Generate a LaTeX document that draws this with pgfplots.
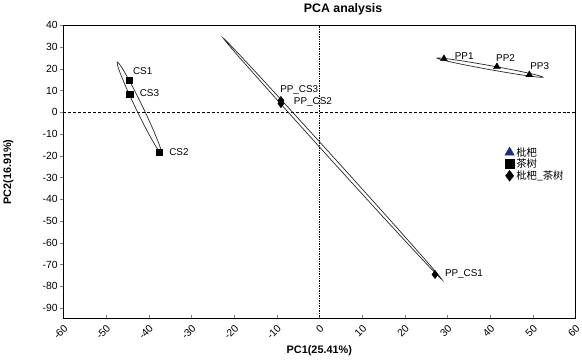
\documentclass[border=0pt]{standalone}
\usepackage{fontspec}
\setmainfont{Liberation Sans}
\newfontfamily\cjk{Noto Sans CJK SC}
\usepackage{pgfplots}
\pgfplotsset{compat=1.18}
\definecolor{legblue}{RGB}{28,48,118}
\begin{document}
\begin{tikzpicture}
\begin{axis}[
  scale only axis,
  width=518pt, height=297pt,
  xmin=-60, xmax=60, ymin=-95, ymax=40,
  xtick={-60,-50,...,60}, ytick={-90,-80,...,40},
  /pgf/number format/assume math mode=true,
  tick label style={font=\fontsize{10.5}{12}\selectfont},
  x tick label style={rotate=45, anchor=north east, inner sep=1pt},
  y tick label style={inner sep=2pt},
  tick align=outside,
  x tick style={yshift=3.5pt},
  xtick pos=bottom, ytick pos=left,
  major tick length=3.5pt,
  axis line style={line width=0.9pt},
  title={\bfseries PCA analysis},
  title style={font=\fontsize{12.5}{14}\selectfont, yshift=1pt, xshift=24pt},
  xlabel={\bfseries PC1(25.41\%)},
  ylabel={\bfseries PC2(16.91\%)},
  label style={font=\fontsize{11}{13}\selectfont},
  xlabel style={yshift=-1pt},
  ylabel style={yshift=24pt},
  legend style={draw=none, fill=none, at={(0.86,0.595)}, anchor=north west,
    font=\cjk\fontsize{10.5}{12}\selectfont, row sep=-2.5pt, inner sep=1pt},
  legend cell align=left,
  clip=false,
]
% reference lines
\addplot[black, densely dashed, line width=0.6pt, forget plot] coordinates {(-60,0) (60,0)};
\addplot[black, densely dotted, line width=0.7pt, forget plot] coordinates {(0,-95) (0,40)};
% ellipses
\addplot[black!85, line width=0.7pt, smooth cycle, forget plot] coordinates {
(-37.02,-18.90) (-37.35,-15.73) (-38.98,-7.80) (-41.46,2.79) (-44.14,13.18) (-46.30,20.60)
(-47.35,23.05) (-47.02,19.88) (-45.39,11.94) (-42.91,1.36) (-40.23,-9.03) (-38.07,-16.45)};
\addplot[black!85, line width=0.7pt, smooth cycle, forget plot] coordinates {
(28.74,-76.96) (25.45,-69.24) (16.18,-48.71) (3.41,-20.87) (-9.45,6.82) (-18.94,26.94)
(-22.53,34.10) (-19.25,26.38) (-9.97,5.85) (2.80,-21.99) (15.66,-49.68) (25.15,-69.80)};
\addplot[black!85, line width=0.7pt, smooth cycle, forget plot] coordinates {
(52.41,16.13) (50.79,17.17) (46.28,19.11) (40.08,21.41) (33.86,23.48) (29.29,24.75)
(27.59,24.88) (29.21,23.85) (33.72,21.91) (39.92,19.60) (46.14,17.53) (50.71,16.26)};
% points
\addplot[only marks, mark=triangle*, mark size=4pt, black, forget plot] coordinates {
(29.2,24.6) (41.6,20.9) (49.2,17.2)};
\addplot[only marks, mark=square*, mark size=3.2pt, black, forget plot] coordinates {
(-44.6,14.7) (-44.4,8.3) (-37.5,-18.4)};
\addplot[only marks, mark=diamond*, mark size=4.2pt, black, forget plot] coordinates {
(-9.0,5.4) (-9.0,4.0) (27.1,-74.6)};
% legend
\addlegendimage{only marks, mark=triangle*, mark size=5.5pt, legblue}
\addlegendentry{枇杷}
\addlegendimage{only marks, mark=square*, mark size=4.5pt, black}
\addlegendentry{茶树}
\addlegendimage{only marks, mark=diamond*, mark size=5.5pt, black}
\addlegendentry{枇杷\_茶树}
% labels
\begin{scope}[every node/.style={font=\fontsize{10}{11}\selectfont, anchor=west, inner sep=0pt}]
\node at (axis cs:-43.7,18.9) {CS1};
\node at (axis cs:-42.1,8.8) {CS3};
\node at (axis cs:-35.2,-18.4) {CS2};
\node at (axis cs:-9.2,10.1) {PP\_CS3};
\node at (axis cs:-6.0,4.6) {PP\_CS2};
\node at (axis cs:29.4,-74.6) {PP\_CS1};
\node at (axis cs:31.7,25.6) {PP1};
\node at (axis cs:41.4,25.0) {PP2};
\node at (axis cs:49.4,21.4) {PP3};
\end{scope}
\end{axis}
\end{tikzpicture}
\end{document}
